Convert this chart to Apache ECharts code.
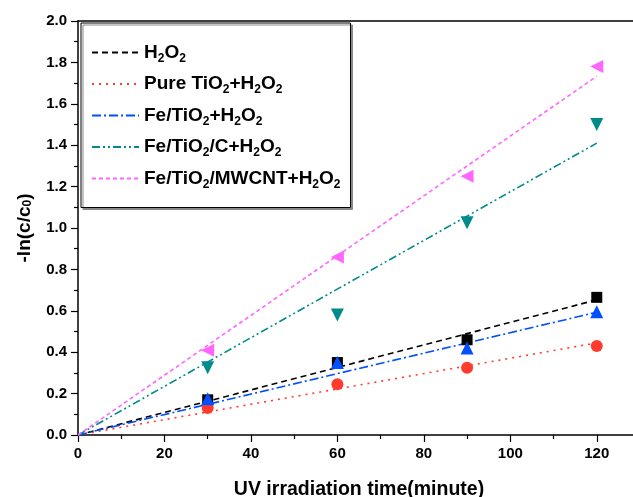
<!DOCTYPE html>
<html lang="en">
<head>
    <meta charset="UTF-8">
    <title>-ln(c/c0) vs UV time</title>
    <style>
        body, html {
            margin: 0;
            width: 100%;
            height: 100%;
            background: #fff;
        }

        #main {
            width: 633px;
            height: 497px;
        }
    </style>
</head>
<body>
<div id="main"></div>
<script src="https://cdn.jsdelivr.net/npm/echarts@6/dist/echarts.min.js"></script>
<script>

    // measured points (minutes)
    let times = [30, 60, 90, 120];
    let h2o2 = [0.17, 0.35, 0.46, 0.665];
    let pureTiO2 = [0.13, 0.245, 0.325, 0.43];
    let feTiO2 = [0.175, 0.35, 0.42, 0.595];
    let feTiO2C = [0.325, 0.58, 1.025, 1.50];
    let feTiO2Mwcnt = [0.41, 0.86, 1.25, 1.78];

    // fitted lines: value at start and end of fitRange
    let fitRange = [0, 120];
    let fitH2o2 = [0, 0.653];
    let fitPure = [0, 0.445];
    let fitFe = [0, 0.593];
    let fitFeC = [0, 1.41];
    let fitFeMw = [0, 1.733];

    let names = ['H2O2', 'Pure TiO2+H2O2', 'Fe/TiO2+H2O2', 'Fe/TiO2/C+H2O2', 'Fe/TiO2/MWCNT+H2O2'];
    let colors = ['#000000', '#ff3b30', '#0050ff', '#008b8b', '#ff66ff'];
    let dashes = [[6, 4], [2, 5], [9, 3, 2, 3], [8, 3, 2, 3, 2, 3], [4, 3]];

    let font = 'Liberation Sans, Arial, sans-serif';

    function pairs(xs, ys) {
        let out = [];
        for (let i = 0; i < xs.length; i++) {
            out.push([xs[i], ys[i]]);
        }
        return out;
    }

    // turn digits into subscripts
    function subName(name) {
        return name.split(/(\d)/).filter(function (p) {
            return p !== '';
        }).map(function (p) {
            return /^\d$/.test(p) ? '{s|' + p + '}' : '{n|' + p + '}';
        }).join('');
    }

    let points = [h2o2, pureTiO2, feTiO2, feTiO2C, feTiO2Mwcnt];
    let fits = [fitH2o2, fitPure, fitFe, fitFeC, fitFeMw];
    let symbols = ['rect', 'circle', 'triangle', 'triangle', 'triangle'];
    let rotates = [0, 0, 0, 180, 90];
    let sizes = [11, 12, 13, 13, 13];

    let series = [];
    for (let i = 0; i < names.length; i++) {
        series.push({
            name: names[i],
            type: 'line',
            data: pairs(fitRange, fits[i]),
            symbol: 'none',
            z: 2,
            lineStyle: {color: colors[i], width: 1.6, type: dashes[i]},
            itemStyle: {color: colors[i]}
        });
    }
    for (let i = 0; i < names.length; i++) {
        series.push({
            name: names[i] + ' data',
            type: 'scatter',
            data: pairs(times, points[i]),
            symbol: symbols[i],
            symbolSize: sizes[i],
            symbolRotate: rotates[i],
            z: 3,
            itemStyle: {color: colors[i], opacity: 1}
        });
    }

    let myChart = echarts.init(document.getElementById('main'));
    let option = {
        animation: false,
        backgroundColor: '#fff',
        // plot runs past the right edge, the picture is cropped there
        grid: {left: 78, top: 21, width: 562, bottom: 62, containLabel: false, outerBoundsMode: 'none'},
        legend: {
            data: names,
            orient: 'vertical',
            left: 81,
            top: 23,
            padding: [20, 10, 17, 10],
            itemGap: 10,
            itemWidth: 47,
            itemHeight: 14,
            backgroundColor: '#fff',
            borderColor: '#000',
            borderWidth: 1,
            borderRadius: 0,
            shadowColor: '#888',
            shadowBlur: 0,
            shadowOffsetX: 2,
            shadowOffsetY: 2,
            selectedMode: false,
            itemStyle: {opacity: 0},
            formatter: subName,
            textStyle: {
                rich: {
                    n: {fontFamily: font, fontWeight: 'bold', fontSize: 19, color: '#000', lineHeight: 24},
                    s: {fontFamily: font, fontWeight: 'bold', fontSize: 12, color: '#000', lineHeight: 11, verticalAlign: 'bottom'}
                }
            }
        },
        xAxis: [
            {
                type: 'value',
                min: 0,
                max: 130,
                interval: 20,
                name: 'UV irradiation time(minute)',
                nameLocation: 'middle',
                nameGap: 45,
                nameTextStyle: {fontFamily: font, fontWeight: 'bold', fontSize: 19.5, color: '#000'},
                axisLine: {show: true, onZero: false, lineStyle: {color: '#000', width: 1.5}},
                axisTick: {show: true, inside: false, length: 7, lineStyle: {color: '#000', width: 1.2}},
                minorTick: {show: true, splitNumber: 2, length: 4, lineStyle: {color: '#000', width: 1.2}},
                axisLabel: {margin: 11, showMaxLabel: false, fontFamily: font, fontWeight: 'bold', fontSize: 15, color: '#000'},
                splitLine: {show: false}
            },
            {
                type: 'value',
                position: 'top',
                min: 0,
                max: 130,
                axisLine: {show: true, onZero: false, lineStyle: {color: '#000', width: 1.5}},
                axisTick: {show: false},
                axisLabel: {show: false},
                splitLine: {show: false}
            }
        ],
        yAxis: {
            type: 'value',
            min: 0,
            max: 2,
            interval: 0.2,
            name: '-ln(c/c{s|0})',
            nameLocation: 'middle',
            nameGap: 44,
            nameTextStyle: {
                fontFamily: font, fontWeight: 'bold', fontSize: 19, color: '#000',
                rich: {
                    s: {fontFamily: font, fontWeight: 'bold', fontSize: 12, color: '#000', lineHeight: 10, verticalAlign: 'bottom'}
                }
            },
            axisLine: {show: true, onZero: false, lineStyle: {color: '#000', width: 1.5}},
            axisTick: {show: true, inside: false, length: 7, lineStyle: {color: '#000', width: 1.2}},
            minorTick: {show: true, splitNumber: 2, length: 4, lineStyle: {color: '#000', width: 1.2}},
            axisLabel: {
                margin: 11, fontFamily: font, fontWeight: 'bold', fontSize: 15, color: '#000',
                formatter: function (v) {
                    return v.toFixed(1);
                }
            },
            splitLine: {show: false}
        },
        series: series
    };

    myChart.setOption(option);

</script>
</body>
</html>
